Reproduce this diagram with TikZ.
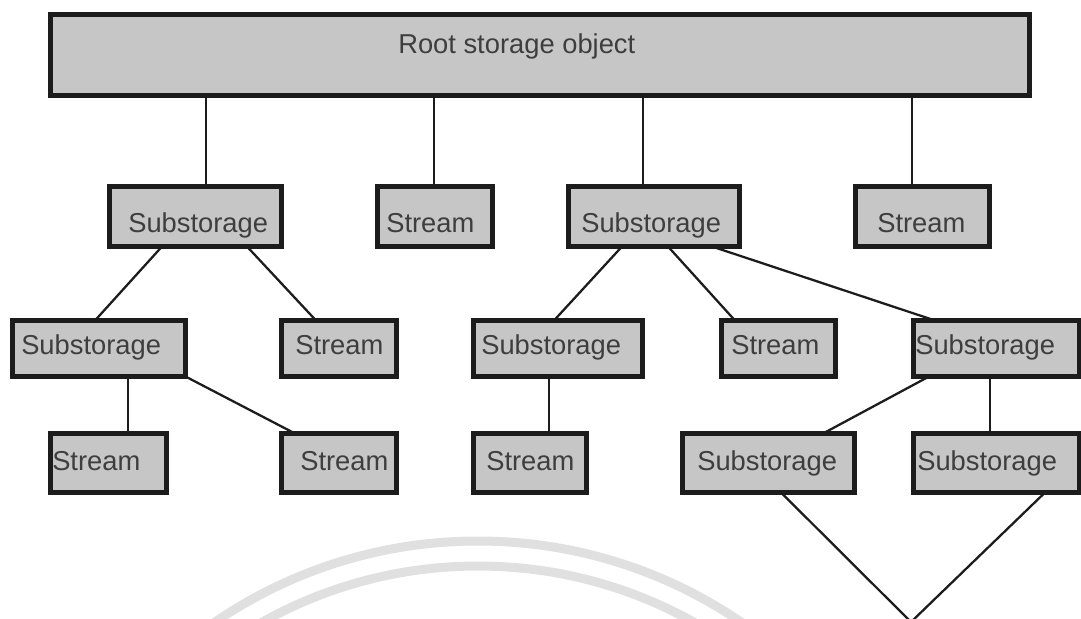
\documentclass[tikz,border=0pt]{standalone}
\usepackage{fontspec}
\setmainfont{Liberation Sans}
\usetikzlibrary{calc}
\definecolor{boxfill}{RGB}{198,198,198}
\definecolor{edge}{RGB}{28,28,28}
\definecolor{ink}{RGB}{62,62,62}
\definecolor{seal}{RGB}{224,224,224}
\tikzset{
  box/.style={draw=edge, fill=boxfill, line width=3.75pt, inner sep=0pt, outer sep=0pt, anchor=north west},
  lbl/.style={text=ink, font=\fontsize{20.5}{24}\selectfont, inner sep=0pt, anchor=base west},
  link/.style={draw=edge, line width=1.7pt},
  sealring/.style={draw=seal, line width=6.75pt},
}
% #1 name, #2/#3 outer top-left corner, #4/#5 outer bottom-right corner (px)
\newcommand\treebox[5]{%
  \node[box, minimum width={(#4-#2-5)*0.75pt}, minimum height={(#5-#3-5)*0.75pt}] (#1) at ({#2+2.5},{#3+2.5}) {};}

\begin{document}
\begin{tikzpicture}[x=0.75pt,y=-0.75pt]
\useasboundingbox (0,0) rectangle (1081,618);
\clip (0,0) rectangle (1081,618);
\fill[white] (0,0) rectangle (1081,618);

% faint seal in the lower middle
\coordinate (sealc) at (478,1008);
\draw[sealring] (sealc) circle[radius=467];
\draw[sealring] (sealc) circle[radius=442];
\foreach \a in {79,82,...,101}
  \draw[seal, line width=1.8pt] ($(sealc)+(\a:388)$) -- ($(sealc)+(\a:406)$);

% boxes
\treebox{root}{48}{12}{1032}{98}
\treebox{sub1}{107}{184}{284}{249}
\treebox{str1}{375}{184}{495}{249}
\treebox{sub2}{566}{184}{742}{249}
\treebox{str2}{853}{184}{992}{249}
\treebox{sub3}{10}{318}{188}{379}
\treebox{str3}{279}{318}{399}{379}
\treebox{sub4}{471}{318}{645}{379}
\treebox{str4}{719}{318}{838}{379}
\treebox{sub5}{911}{318}{1082}{379}
\treebox{str5}{48}{431}{169}{495}
\treebox{str6}{279}{431}{399}{495}
\treebox{str7}{471}{431}{589}{495}
\treebox{sub6}{680}{431}{857}{495}
\treebox{sub7}{911}{431}{1082}{495}

% labels
\node[lbl] (t-root) at (398,53) {Root storage object};
\node[lbl] (t-sub1) at (128,232) {Substorage};
\node[lbl] (t-str1) at (386,232) {Stream};
\node[lbl] (t-sub2) at (581,232) {Substorage};
\node[lbl] (t-str2) at (877,232) {Stream};
\node[lbl] (t-sub3) at (21,354) {Substorage};
\node[lbl] (t-str3) at (295,354) {Stream};
\node[lbl] (t-sub4) at (481,354) {Substorage};
\node[lbl] (t-str4) at (731,354) {Stream};
\node[lbl] (t-sub5) at (915,354) {Substorage};
\node[lbl] (t-str5) at (52,470) {Stream};
\node[lbl] (t-str6) at (300,470) {Stream};
\node[lbl] (t-str7) at (486,470) {Stream};
\node[lbl] (t-sub6) at (697,470) {Substorage};
\node[lbl] (t-sub7) at (917,470) {Substorage};

% connectors from the root
\draw[link] ($(root.south west)+(155.5,0)$) coordinate (r1) -- (r1 |- sub1.north);
\draw[link] ($(root.south west)+(383.5,0)$) coordinate (r2) -- (r2 |- str1.north);
\draw[link] ($(root.south west)+(592.5,0)$) coordinate (r3) -- (r3 |- sub2.north);
\draw[link] ($(root.south west)+(861.5,0)$) coordinate (r4) -- (r4 |- str2.north);

% second level
\draw[link] ($(sub1.south west)+(52.5,0)$) -- ($(sub3.north west)+(82.5,0)$);
\draw[link] ($(sub1.south west)+(137.5,0)$) -- ($(str3.north west)+(34.5,0)$);
\draw[link] ($(sub2.south west)+(53.5,0)$) -- ($(sub4.north west)+(80.5,0)$);
\draw[link] ($(sub2.south west)+(99.5,0)$) -- ($(str4.north west)+(13.5,0)$);
\draw[link] ($(sub2.south west)+(143.5,0)$) -- ($(sub5.north west)+(21.5,0)$);

% third level
\draw[link] ($(sub3.south west)+(115.5,0)$) coordinate (s3) -- (s3 |- str5.north);
\draw[link] (sub3.south east) -- ($(str6.north west)+(13.5,0)$);
\draw[link] ($(sub4.south west)+(75.5,0)$) coordinate (s4) -- (s4 |- str7.north);
\draw[link] ($(sub5.south west)+(15.5,0)$) -- ($(sub6.north west)+(140.5,0)$);
\draw[link] ($(sub5.south west)+(76.5,0)$) coordinate (s5) -- (s5 |- sub7.north);

% the two lowest substorages meet below the edge
\coordinate (apex) at (911,622);
\draw[link] ($(sub6.south west)+(98.5,0)$) -- (apex);
\draw[link] ($(sub7.south west)+(131.5,0)$) -- (apex);
\end{tikzpicture}
\end{document}
